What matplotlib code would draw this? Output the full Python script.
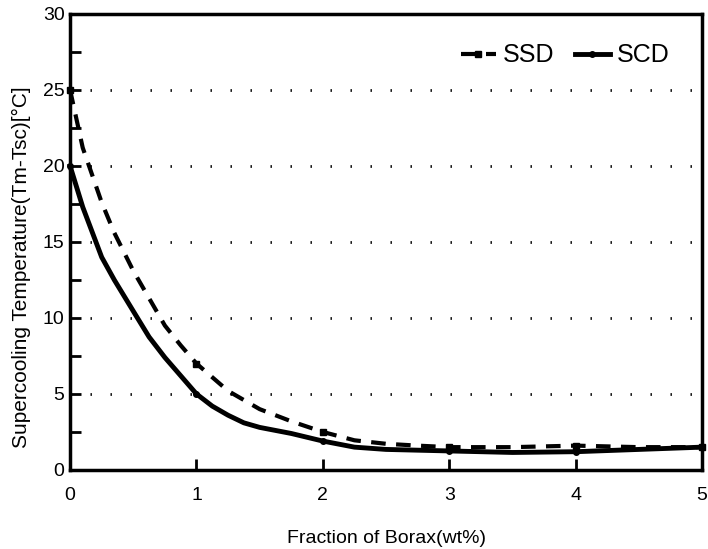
import matplotlib
matplotlib.use("Agg")
from matplotlib import pyplot as plt
from matplotlib.ticker import MultipleLocator

plt.rcParams["font.family"] = ["Liberation Sans", "DejaVu Sans"]

borax = [0, 0.1, 0.25, 0.35, 0.5, 0.625, 0.75, 0.875, 1, 1.125, 1.25, 1.375,
         1.5, 1.75, 2, 2.25, 2.5, 2.75, 3, 3.5, 4, 4.5, 5]
ssd = [25, 21.2, 17.6, 15.6, 13.1, 11.3, 9.5, 8.2, 7.0, 6.1, 5.2, 4.6,
       4.0, 3.2, 2.5, 1.95, 1.72, 1.6, 1.5, 1.5, 1.6, 1.5, 1.5]
scd = [20, 17.3, 14.0, 12.5, 10.45, 8.75, 7.4, 6.2, 5.0, 4.2, 3.6, 3.1,
       2.8, 2.4, 1.9, 1.5, 1.35, 1.3, 1.25, 1.15, 1.2, 1.35, 1.5]
marks = [0, 8, 14, 18, 20, 22]  # measured points at 0,1,2,3,4,5 wt%

fig = plt.figure(figsize=(7.08, 5.49), dpi=100)
ax = fig.add_axes([0.099, 0.144, 0.8925, 0.8305])

ax.plot(borax, ssd, color="black", lw=3, linestyle=(0, (3.5, 2.5)),
        marker="s", markersize=4, markevery=marks, label="SSD", clip_on=False)
ax.plot(borax, scd, color="black", lw=3.5, linestyle="-",
        marker="o", markersize=4, markevery=marks, label="SCD", clip_on=False)

ax.set_xlim(0, 5)
ax.set_ylim(0, 30)
ax.xaxis.set_major_locator(MultipleLocator(1))
ax.yaxis.set_major_locator(MultipleLocator(5))
ax.yaxis.set_minor_locator(MultipleLocator(2.5))
ax.tick_params(axis="both", which="major", direction="in", length=8, width=2,
               labelsize=14)
ax.tick_params(axis="y", which="major", pad=4)
ax.tick_params(axis="x", which="major", pad=12)
ax.tick_params(axis="y", which="minor", direction="in", length=8, width=2)

for y in [5, 10, 15, 20, 25]:
    ax.axhline(y, color="black", lw=2, linestyle=(0, (0.5, 6.7)), zorder=0)

for s in ax.spines.values():
    s.set_linewidth(2.5)

ax.set_xlabel("Fraction of Borax(wt%)", fontsize=14, labelpad=19)
ax.set_ylabel("Supercooling Temperature(Tm-Tsc)[°C]", fontsize=15)
ax.yaxis.set_label_coords(-0.062, 0.445)

ax.legend(loc="upper right", ncol=2, frameon=False, fontsize=18,
          handlelength=1.4, handletextpad=0.3, columnspacing=0.8,
          bbox_to_anchor=(0.985, 0.985))

plt.savefig("out.png", dpi=100)
